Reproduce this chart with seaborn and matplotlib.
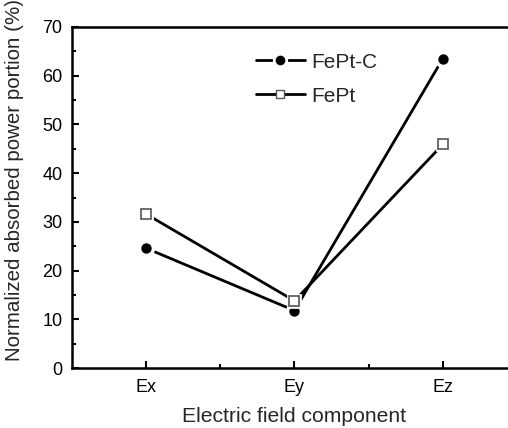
import numpy as np
import pandas as pd
import matplotlib
matplotlib.use("Agg")
import matplotlib.pyplot as plt
from matplotlib.ticker import MultipleLocator, FixedLocator
from matplotlib.lines import Line2D
import seaborn as sns

# --- data ---
components = ['Ex', 'Ey', 'Ez']
fept_c = [24.6, 11.8, 63.5]
fept = [31.6, 13.8, 45.9]

df = pd.DataFrame({
    'component': components * 2,
    'value': fept_c + fept,
    'sample': ['FePt-C'] * 3 + ['FePt'] * 3,
})
df['x'] = df['component'].map({c: i for i, c in enumerate(components)})

sns.set_style('ticks')
plt.rcParams['font.family'] = ['Liberation Sans', 'DejaVu Sans']

fig = plt.figure(figsize=(5.08, 4.28), dpi=100)
ax = fig.add_axes([0.1417, 0.14, 0.876, 0.797])

# lines with a small gap around the markers (Origin style)
sns.lineplot(data=df[df['sample'] == 'FePt-C'], x='x', y='value', ax=ax,
             color='black', lw=2, marker='o', markersize=10,
             markerfacecolor='black', markeredgecolor='white', markeredgewidth=2.5,
             legend=False)
sns.lineplot(data=df[df['sample'] == 'FePt'], x='x', y='value', ax=ax,
             color='black', lw=2, marker='s', markersize=8.5,
             markerfacecolor='white', markeredgecolor='white', markeredgewidth=2,
             legend=False)
sub = df[df['sample'] == 'FePt']
ax.plot(sub['x'], sub['value'], ls='none', marker='s', markersize=6.5,
        markerfacecolor='white', markeredgecolor='#555555', markeredgewidth=1.2,
        zorder=5)

# legend
handles = [
    Line2D([], [], color='black', lw=2, marker='o', markersize=9,
           markerfacecolor='black', markeredgecolor='white', markeredgewidth=2),
    Line2D([], [], color='black', lw=2, marker='s', markersize=6,
           markerfacecolor='white', markeredgecolor='#555555', markeredgewidth=1),
]
ax.legend(handles, ['FePt-C', 'FePt'], loc='upper left', bbox_to_anchor=(0.413, 0.925),
          frameon=False, fontsize=15, handlelength=2.35, handletextpad=0.3,
          labelspacing=0.72, borderpad=0, borderaxespad=0)

ax.set_xlim(-0.5, 2.5)
ax.set_ylim(0, 70)
ax.set_xticks(range(len(components)))
ax.set_xticklabels(components)
ax.xaxis.set_minor_locator(FixedLocator([0.5, 1.5]))
ax.yaxis.set_major_locator(MultipleLocator(10))
ax.yaxis.set_minor_locator(MultipleLocator(5))
ax.tick_params(which='both', direction='in', width=1.5, labelsize=13, colors='black')
ax.tick_params(which='major', length=5)
ax.tick_params(which='minor', length=3)
ax.tick_params(axis='x', pad=8)
ax.tick_params(axis='y', pad=7)

for s in ax.spines.values():
    s.set_linewidth(1.8)
    s.set_color('black')

ax.set_xlabel('Electric field component', fontsize=15.2, labelpad=8)
ax.set_ylabel('Normalized absorbed power portion (%)', fontsize=14.8)
ax.yaxis.set_label_coords(-0.108, 0.551)

fig.savefig('out.png', dpi=100)
